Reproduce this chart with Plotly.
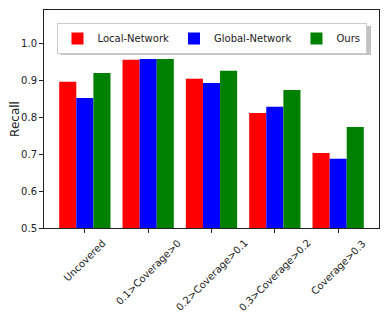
import plotly.graph_objects as go

categories = ["Uncovered", "0.1>Coverage>0", "0.2>Coverage>0.1", "0.3>Coverage>0.2", "Coverage>0.3"]
local_network = [0.897, 0.957, 0.905, 0.812, 0.704]
global_network = [0.853, 0.959, 0.894, 0.829, 0.688]
ours = [0.921, 0.959, 0.927, 0.875, 0.774]

series = [("Local-Network", local_network, "red"),
          ("Global-Network", global_network, "blue"),
          ("Ours", ours, "green")]

fig = go.Figure()
for name, vals, col in series:
    fig.add_trace(go.Bar(x=categories, y=vals, name=name, marker_color=col,
                         marker_line_width=0))

# page body has an 8px margin, so the figure is drawn from (8, 8)
OFF = 8
W, H = 389 - OFF, 317 - OFF
L, R, T, B = 44 - OFF, 10, 10 - OFF, 89
pw, ph = W - L - R, H - T - B

def px_x(x):
    return (x - 44) / pw

def px_y(y):
    return 1 - (y - 10) / ph

# legend shadow
fig.add_shape(type="rect", xref="paper", yref="paper",
              x0=px_x(61), x1=px_x(371), y0=px_y(55), y1=px_y(26),
              fillcolor="#999999", line_width=0, layer="above", opacity=0.6)

# centred, rotated category labels (matplotlib style)
for cat in categories:
    fig.add_annotation(x=cat, xref="x", y=px_y(235), yref="paper",
                       text=cat, textangle=-45, showarrow=False,
                       xanchor="center", yanchor="top",
                       font=dict(size=10, color="#222"))

fig.update_layout(
    width=W, height=H,
    margin=dict(l=L, r=R, t=T, b=B),
    paper_bgcolor="white", plot_bgcolor="white",
    font=dict(family="DejaVu Sans", size=10, color="#222"),
    barmode="group", bargap=0.19, bargroupgap=0,
    showlegend=True,
    legend=dict(orientation="h", x=0.5, xanchor="center", y=px_y(23), yanchor="top",
                bgcolor="white", bordercolor="#cccccc", borderwidth=1,
                font=dict(size=10), itemwidth=30, tracegroupgap=0),
    xaxis=dict(range=[-0.645, 4.645], showticklabels=False, showline=True, mirror=True,
               linecolor="#222", linewidth=1, ticks="outside", ticklen=4,
               tickcolor="#222", showgrid=False, zeroline=False, automargin=False),
    yaxis=dict(range=[0.5, 1.092], tickvals=[0.5, 0.6, 0.7, 0.8, 0.9, 1.0],
               tickformat=".1f", showline=True, mirror=True, linecolor="#222",
               linewidth=1, ticks="outside", ticklen=4, tickcolor="#222",
               showgrid=False, zeroline=False, automargin=False,
               title=dict(text="Recall", standoff=6)),
)

fig.write_html("out.html")
